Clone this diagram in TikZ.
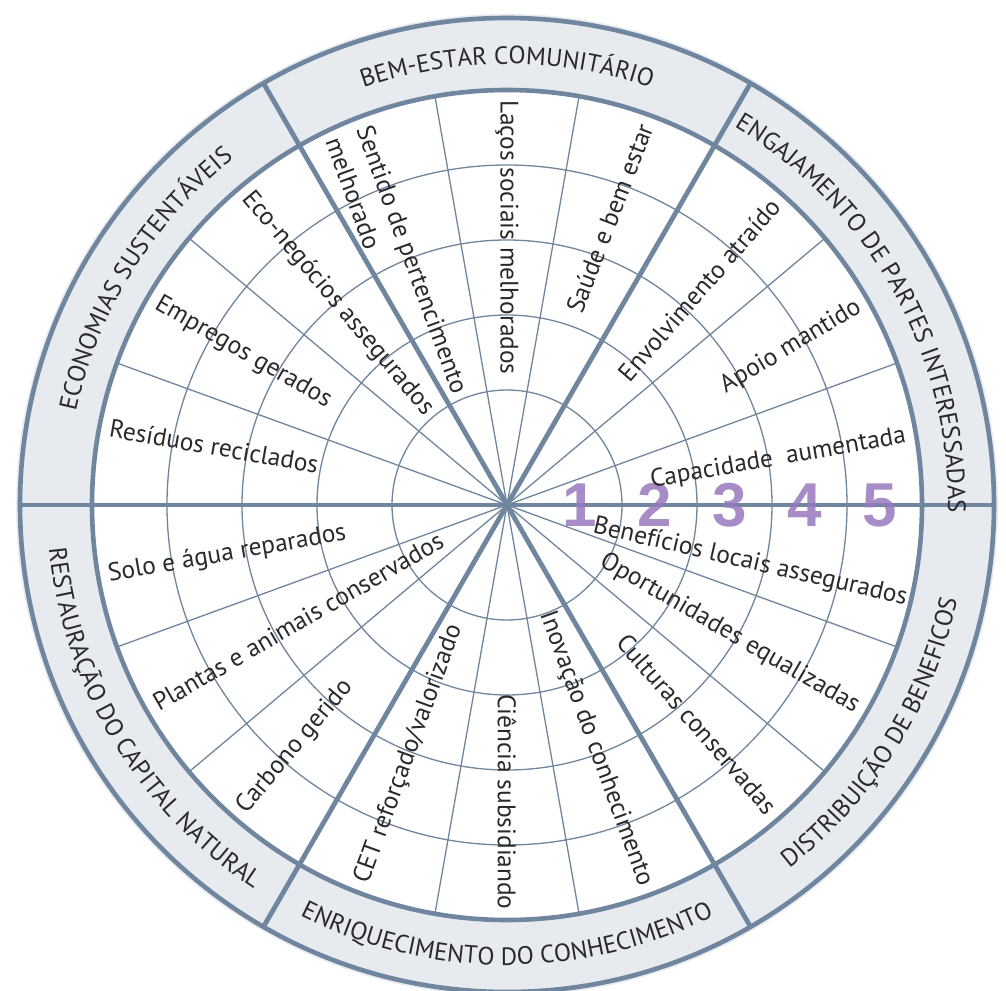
\documentclass[tikz,border=0pt]{standalone}
\usepackage{fontspec}
\newfontfamily\wheelfont{PT Sans}
\newfontfamily\digitfont{Liberation Sans}
\usetikzlibrary{decorations.text}
\tikzset{
  rim/.style={
    draw=wheelline,
    line width=2.3pt
  },
  spoke-thick/.style={draw=wheelline, line width=2.4pt},
  spoke-thin/.style={draw=wheelline, line width=0.65pt},
  level-ring/.style={draw=wheelline, line width=0.65pt},
  item/.style={font=\wheelfont\fontsize{12.7}{16.5}\selectfont, text=wheeltext, inner sep=0pt},
  item-out/.style={item, anchor=east},
  item-in/.style={item, anchor=west},
  level-num/.style={font=\digitfont\bfseries\fontsize{31}{31}\selectfont, text=levelpurple, text opacity=0.85, inner sep=0pt},
  band-text/.style={decorate, decoration={text along path, text align=center, text color=wheeltext,
    text={|\wheelfont\fontsize{12.5}{12.5}\selectfont|#1}}}
}
\definecolor{wheelline}{RGB}{111,134,158}
\definecolor{wheelband}{RGB}{231,234,239}
\definecolor{wheeltext}{RGB}{42,42,42}
\definecolor{levelpurple}{RGB}{152,120,190}
\newcommand{\bandlabel}[4]{
  \path[band-text={#4}] (#1:#3) arc[start angle=#1, end angle=#2, radius=#3];
}

\begin{document}
\begin{tikzpicture}[x=0.5pt, y=0.5pt]
  \useasboundingbox (-507,-485) rectangle (499,505);
  % outer band and white face
  \fill[wheelband] (0,0) circle[radius=491];
  \fill[white] (0,0) circle[radius=415];
  % level rings
  \foreach \r in {115,190,265,340}
    \draw[level-ring] (0,0) circle[radius=\r];
  % thin spokes, two per sector
  \foreach \a in {0,60,...,300} {
    \draw[spoke-thin] (0,0) -- (\a+20:415);
    \draw[spoke-thin] (0,0) -- (\a+40:415);
  }
  % sector spokes and rims
  \foreach \a in {0,60,...,300}
    \draw[spoke-thick] (0,0) -- (\a:487);
  \draw[rim] (0,0) circle[radius=415];
  \draw[rim] (0,0) circle[radius=487];
  % level numbers 1 to 5
  \foreach \n in {1,...,5}
    \node[level-num] (level\n) at ({73+75*(\n-1)},0) {\n};
  % labels read outwards
  \foreach \ang/\rot/\txt/\rad [count=\i] in {
      9.8/10/Capacidade\ \ aumentada/405, 29.5/31/Apoio mantido/405,
      48.5/49/Envolvimento atraído/405, 70/69/Saúde e bem estar/405,
      270/-90/Ciência subsidiando/405, 290/-70/Inovação do conhecimento/405,
      311/-49/Culturas conservadas/405, 330/-30/Oportunidades equalizadas/405,
      346.8/-13/Benefícios locais assegurados/411}
    \node[item-out, rotate=\rot] (out\i) at (\ang:\rad) {\txt};
  % labels read inwards
  \foreach \ang/\rot/\txt [count=\i] in {
      90/-90/Laços sociais melhorados, 130/-50/Eco-negócios assegurados,
      150/-30/Empregos gerados, 169/-10/Resíduos reciclados,
      190/10/Solo e água reparados, 209.5/30/Plantas e animais conservados,
      229/50/Carbono gerido, 249/70/{CET reforçado/valorizado}}
    \node[item-in, rotate=\rot] (in\i) at (\ang:405) {\txt};
  \node[item-in, rotate=-70, align=left] (in9) at (113:405) {Sentido de pertencimento\\melhorado};
  % band titles
  \bandlabel{183}{113}{441}{ECONOMIAS SUSTENTÁVEIS}
  \bandlabel{125}{55}{441}{BEM-ESTAR COMUNITÁRIO}
  \bandlabel{64}{-6}{441}{ENGAJAMENTO DE PARTES INTERESSADAS}
  \bandlabel{176}{246}{460}{RESTAURAÇÃO DO CAPITAL NATURAL}
  \bandlabel{235}{305}{460}{ENRIQUECIMENTO DO CONHECIMENTO}
  \bandlabel{293}{363}{460}{DISTRIBUIÇÃO DE BENEFICOS}
\end{tikzpicture}
\end{document}
